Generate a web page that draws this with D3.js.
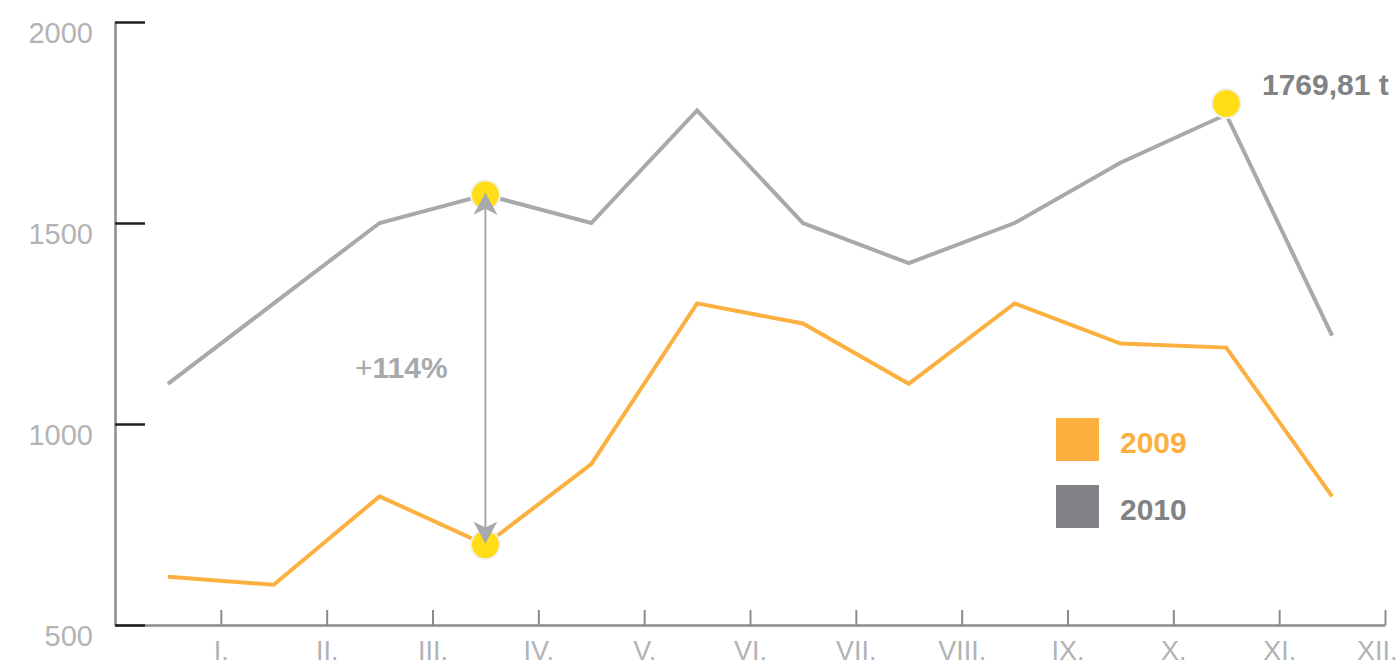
<!DOCTYPE html>
<html>
<head>
<meta charset="utf-8">
<script src="https://cdn.jsdelivr.net/npm/d3@7"></script>
<style>
  body { margin: 0; background: #fff; }
  svg { display: block; font-family: "Helvetica Neue", Helvetica, "Liberation Sans", Arial, sans-serif; }
</style>
</head>
<body>
<div id="chart"></div>
<script>
var months = ["I.", "II.", "III.", "IV.", "V.", "VI.", "VII.", "VIII.", "IX.", "X.", "XI.", "XII."];
var yTicks = [500, 1000, 1500, 2000];
var values2009 = [620, 600, 820, 700, 900, 1300, 1250, 1100, 1300, 1200, 1190, 820];
var values2010 = [1100, 1300, 1500, 1570, 1500, 1780, 1500, 1400, 1500, 1650, 1769.81, 1220];
var seriesNames = ["2009", "2010"];
var seriesColors = ["#fbb040", "#a7a9ac"];
var legendColors = ["#fbb040", "#808285"];
var highlightMonth = 3;
var peakMonth = 10;
var peakLabel = "1769,81 t";
var growthLabel = ["+", "114%"];

var W = 1398, H = 667;
var svg = d3.select("#chart").append("svg").attr("width", W).attr("height", H);

var x = d3.scaleLinear().domain([-0.5, 11.5]).range([115, 1385]);
var y = d3.scaleLinear().domain([500, 2000]).range([625, 22]);

// x axis: ticks between months, pointing up
var xAxis = d3.axisBottom(x)
    .tickValues(d3.range(12).map(function (i) { return i + 0.5; }))
    .tickFormat(function (d, i) { return months[i]; })
    .tickSizeInner(-15).tickSizeOuter(0).tickPadding(16);
var gx = svg.append("g").attr("transform", "translate(0," + y(500) + ")").call(xAxis);
gx.select(".domain").attr("stroke", "#8c8c8e").attr("stroke-width", 2.5);
gx.selectAll(".tick line").attr("stroke", "#8c8c8e").attr("stroke-width", 2);
gx.selectAll(".tick text").attr("fill", "#b1b3b6").attr("font-size", 27).attr("font-weight", 300).attr("dy", "0.71em");
// keep the last month label inside the picture
gx.selectAll(".tick text").filter(function (d, i) { return i == months.length - 1; })
    .attr("text-anchor", "end").attr("dx", 12);

// y axis: black ticks pointing in, labels left
var yAxis = d3.axisLeft(y).tickValues(yTicks).tickFormat(d3.format("d"))
    .tickSizeInner(-30).tickSizeOuter(0).tickPadding(22);
var gy = svg.append("g").attr("transform", "translate(" + x(-0.5) + ",0)").call(yAxis);
gy.select(".domain").attr("stroke", "#8c8c8e").attr("stroke-width", 2.5);
gy.selectAll(".tick line").attr("stroke", "#231f20").attr("stroke-width", 2.5);
gy.selectAll(".tick text").attr("fill", "#b1b3b6").attr("font-size", 29).attr("font-weight", 300).attr("dy", "0.71em");

var line = d3.line().x(function (d, i) { return x(i); }).y(function (d) { return y(d); });

[values2009, values2010].forEach(function (vals, k) {
    svg.append("path").datum(vals).attr("d", line)
        .attr("fill", "none").attr("stroke", seriesColors[k]).attr("stroke-width", 4)
        .attr("stroke-linejoin", "miter");
});

// highlight dots
var dots = [
    [highlightMonth, y(values2010[highlightMonth])],
    [highlightMonth, y(values2009[highlightMonth])],
    [peakMonth, y(values2010[peakMonth]) - 11]
];
svg.selectAll(".dot").data(dots).enter().append("circle").attr("class", "dot")
    .attr("cx", function (d) { return x(d[0]); })
    .attr("cy", function (d) { return d[1]; })
    .attr("r", 14.5)
    .attr("fill", "#ffdd17").attr("stroke", "#f1f1f1").attr("stroke-width", 2);

// double arrow
var defs = svg.append("defs");
["start", "end"].forEach(function (name) {
    defs.append("marker").attr("id", "arr-" + name)
        .attr("markerUnits", "userSpaceOnUse")
        .attr("viewBox", "0 0 22 24").attr("markerWidth", 22).attr("markerHeight", 24)
        .attr("refX", 21).attr("refY", 12)
        .attr("orient", name == "start" ? "auto-start-reverse" : "auto")
        .append("path").attr("d", "M0,0 L22,12 L0,24 L6,12 Z").attr("fill", "#a7a9ac");
});
svg.append("line")
    .attr("x1", x(highlightMonth)).attr("x2", x(highlightMonth))
    .attr("y1", y(values2010[highlightMonth]) - 1).attr("y2", y(values2009[highlightMonth]) - 2)
    .attr("stroke", "#a7a9ac").attr("stroke-width", 2)
    .attr("marker-start", "url(#arr-start)").attr("marker-end", "url(#arr-end)");

var gt = svg.append("text").attr("x", 355).attr("y", 378).attr("fill", "#a7a9ac").attr("font-size", 30);
gt.append("tspan").text(growthLabel[0]);
gt.append("tspan").attr("font-weight", "bold").text(growthLabel[1]);

svg.append("text").attr("x", 1262).attr("y", 95).attr("fill", "#808285")
    .attr("font-size", 30).attr("font-weight", "bold").text(peakLabel);

// legend
var lg = svg.append("g").attr("transform", "translate(1056,418)");
seriesNames.forEach(function (name, k) {
    lg.append("rect").attr("x", 0).attr("y", k * 67).attr("width", 43).attr("height", 43).attr("fill", legendColors[k]);
    lg.append("text").attr("x", 64).attr("y", k * 67 + 35).attr("fill", legendColors[k])
        .attr("font-size", 30).attr("font-weight", "bold").text(name);
});
</script>
</body>
</html>
